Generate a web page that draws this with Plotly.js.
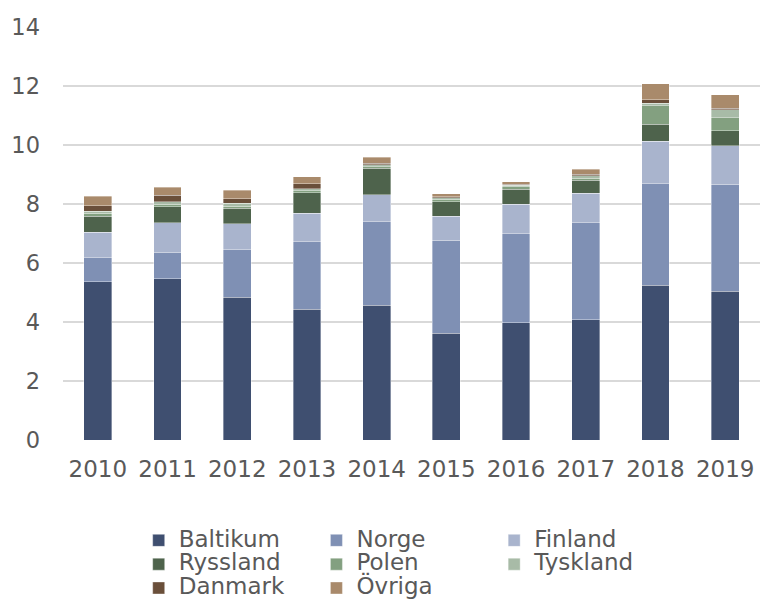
<!DOCTYPE html>
<html>
<head>
<meta charset="utf-8">
<script src="https://cdn.plot.ly/plotly-3.0.1.min.js"></script>
<style>html,body{margin:0;padding:0;background:#fff;}#chart{width:763px;height:601px;}</style>
</head>
<body>
<div id="chart"></div>
<script>
var years = ['2010','2011','2012','2013','2014','2015','2016','2017','2018','2019'];
var baltikum = [5.37, 5.46, 4.84, 4.43, 4.57, 3.62, 3.98, 4.07, 5.24, 5.05];
var norge    = [0.81, 0.90, 1.61, 2.29, 2.83, 3.15, 3.02, 3.29, 3.44, 3.62];
var finland  = [0.86, 1.01, 0.88, 0.97, 0.92, 0.81, 0.99, 1.00, 1.44, 1.30];
var ryssland = [0.55, 0.53, 0.52, 0.69, 0.89, 0.50, 0.51, 0.45, 0.59, 0.51];
var polen    = [0.09, 0.09, 0.07, 0.07, 0.06, 0.08, 0.09, 0.07, 0.62, 0.45];
var tyskland = [0.07, 0.08, 0.10, 0.07, 0.06, 0.05, 0.04, 0.07, 0.08, 0.26];
var danmark  = [0.19, 0.22, 0.15, 0.16, 0.05, 0.04, 0.04, 0.06, 0.12, 0.05];
var ovriga   = [0.32, 0.28, 0.30, 0.25, 0.20, 0.10, 0.09, 0.17, 0.54, 0.47];

var seriesNames = ['Baltikum','Norge','Finland','Ryssland','Polen','Tyskland','Danmark','Övriga'];
var seriesData = [baltikum, norge, finland, ryssland, polen, tyskland, danmark, ovriga];
var colors = ['#3f4f70','#7f90b4','#a9b4cd','#4e634c','#83a080','#a8bba7','#6a4f3a','#a98a6b'];
// legend column of each series (3 columns, filled row by row)
var legendIds = ['legend','legend2','legend3','legend','legend2','legend3','legend','legend2'];

var traces = seriesNames.map(function(n, i){
  return {
    type: 'bar', name: '<span style="font-size:23px">' + n + '</span>', x: years, y: seriesData[i],
    legend: legendIds[i],
    marker: {color: colors[i], line: {color: 'rgba(255,255,255,0.6)', width: 0.6}},
    hoverinfo: 'x+y'
  };
});

function legendAt(xp) {
  return {orientation: 'v', x: xp, xanchor: 'left', xref: 'paper', y: 0.129, yref: 'container', yanchor: 'top', traceorder: 'normal',
          font: {size: 16, color: '#595959'}, bgcolor: 'rgba(0,0,0,0)', borderwidth: 0};
}

var layout = {
  width: 763, height: 601,
  margin: {l: 63, r: 3, t: 27, b: 161},
  barmode: 'stack',
  bargap: 0.6,
  paper_bgcolor: '#ffffff', plot_bgcolor: '#ffffff',
  font: {family: 'DejaVu Sans, Verdana, sans-serif', color: '#595959', size: 23},
  xaxis: {type: 'category', showgrid: false, zeroline: false, showline: false, ticks: '', ticklabelstandoff: 13, tickfont: {size: 23, color: '#595959'}},
  yaxis: {range: [0, 14], dtick: 2, tick0: 0, showgrid: true, gridcolor: '#d9d9d9', gridwidth: 1.5, zeroline: false, showline: false, ticks: '', ticklabelstandoff: 22, tickfont: {size: 22.5, color: '#595959'}},
  showlegend: true,
  legend: legendAt(0.1086),
  legend2: legendAt(0.3636),
  legend3: legendAt(0.6186)
};

Plotly.newPlot('chart', traces, layout, {displayModeBar: false, staticPlot: true});
</script>
</body>
</html>
